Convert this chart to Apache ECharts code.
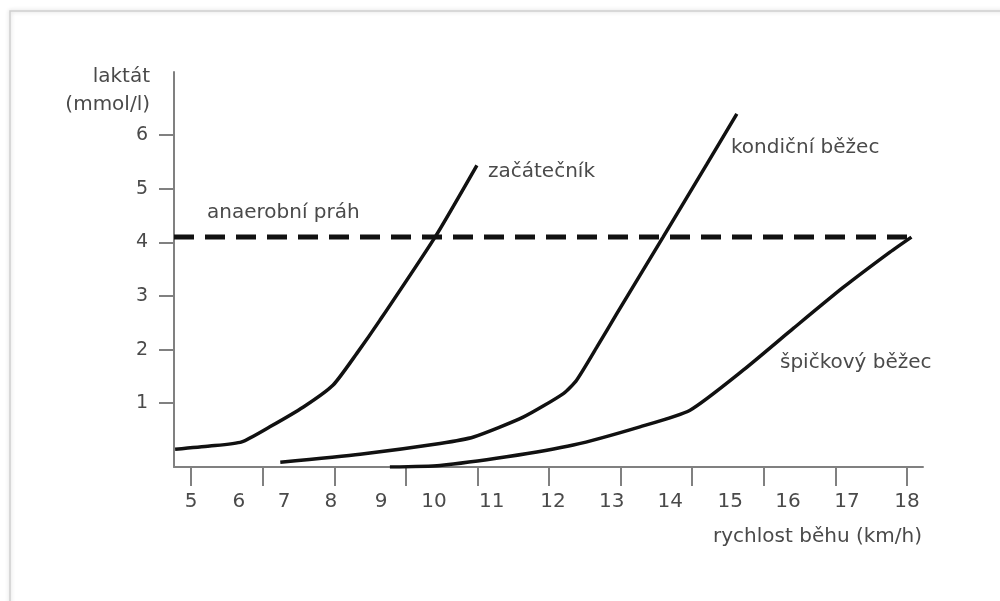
<!DOCTYPE html>
<html>
<head>
<meta charset="utf-8">
<script src="https://cdn.jsdelivr.net/npm/echarts@6/dist/echarts.min.js"></script>
<style>
  html, body { margin: 0; padding: 0; background: #fff; }
  #chart { width: 1000px; height: 601px; }
</style>
</head>
<body>
<div id="chart"></div>
<script>
// Tick labels
const speedLabels = ['5', '6', '7', '8', '9', '10', '11', '12', '13', '14', '15', '16', '17', '18'];
const lactateTicks = [1, 2, 3, 4, 5, 6];

// Lactate curves [speed km/h, lactate mmol/l]
const beginner = [
  [4.71, 0.14], [5.34, 0.20], [5.92, 0.28], [6.43, 0.56], [7.04, 0.93],
  [7.58, 1.34], [8.01, 1.93], [8.43, 2.55], [9.43, 4.10], [10.19, 5.44],
];
const fitRunner = [
  [6.62, -0.10], [8.07, 0.05], [9.52, 0.25], [10.13, 0.37], [11.03, 0.74],
  [11.76, 1.18], [12.00, 1.43], [12.37, 2.05], [12.73, 2.67], [13.57, 4.10],
  [14.36, 5.45], [14.91, 6.40],
];
const eliteRunner = [
  [8.61, -0.19], [9.52, -0.16], [10.73, 0.00], [11.94, 0.22], [13.15, 0.56],
  [14.06, 0.87], [15.03, 1.62], [15.94, 2.40], [16.84, 3.16], [17.69, 3.82],
  [18.08, 4.10],
];
const threshold = [[4.69, 4.1], [18.08, 4.1]];

// The printed labels sit a bit off the drawn tick marks, so place them separately
const labelAt = [5.00, 5.87, 6.69, 7.54, 8.45, 9.41, 10.46, 11.57, 12.64, 13.70, 14.79, 15.84, 16.91, 18.00];
const tickAt = [];
for (let k = 0; k <= 10; k++) tickAt.push(+(5 + k * 1.3).toFixed(2));

const FONT = 'DejaVu Sans';
const TEXT = '#4a4a4a';
const AXIS = '#808080';

const chart = echarts.init(document.getElementById('chart'), null, { renderer: 'canvas' });

const curve = (name, data) => ({
  name,
  type: 'line',
  data,
  showSymbol: false,
  smooth: 0.2,
  lineStyle: { color: '#111', width: 3.5 },
  silent: true,
  z: 3,
});

const label = (text, x, y, align) => ({
  type: 'text',
  x, y,
  style: {
    text,
    fill: TEXT,
    font: `20px "${FONT}"`,
    align: align || 'left',
    verticalAlign: 'middle',
  },
});

chart.setOption({
  animation: false,
  backgroundColor: '#fff',
  grid: { left: 174, right: 77, top: 72, bottom: 134 },
  xAxis: {
    type: 'value',
    min: 4.69,
    max: 18.29,
    axisLine: { onZero: false, lineStyle: { color: AXIS, width: 2 } },
    axisTick: { customValues: tickAt, length: 19, lineStyle: { color: AXIS, width: 2 } },
    axisLabel: {
      customValues: labelAt,
      formatter: (v) => {
        let best = 0;
        labelAt.forEach((p, i) => { if (Math.abs(p - v) < Math.abs(labelAt[best] - v)) best = i; });
        return speedLabels[best];
      },
      margin: 25,
      color: TEXT,
      fontFamily: FONT,
      fontSize: 20,
    },
    splitLine: { show: false },
  },
  yAxis: {
    type: 'value',
    min: -0.19,
    max: 7.18,
    axisLine: { show: true, onZero: false, lineStyle: { color: AXIS, width: 2 } },
    axisTick: { show: true, customValues: lactateTicks, length: 15, lineStyle: { color: AXIS, width: 2 } },
    axisLabel: {
      customValues: lactateTicks,
      margin: 26,
      color: TEXT,
      fontFamily: FONT,
      fontSize: 19,
    },
    splitLine: { show: false },
  },
  series: [
    {
      name: 'anaerobní práh',
      type: 'line',
      data: threshold,
      showSymbol: false,
      lineStyle: { color: '#111', width: 5, type: [20, 11], cap: 'butt' },
      silent: true,
      z: 2,
    },
    curve('začátečník', beginner),
    curve('kondiční běžec', fitRunner),
    curve('špičkový běžec', eliteRunner),
  ],
  graphic: [
    // page frame of the scanned figure
    {
      type: 'rect',
      shape: { x: 10, y: 11, width: 1200, height: 800 },
      style: { fill: 'none', stroke: '#cfcfcf', lineWidth: 1.5, shadowBlur: 4, shadowColor: 'rgba(0,0,0,0.2)' },
      z: -1,
    },
    label('laktát', 150, 77, 'right'),
    label('(mmol/l)', 150, 105, 'right'),
    label('rychlost běhu (km/h)', 922, 537, 'right'),
    label('anaerobní práh', 207, 213),
    label('začátečník', 488, 172),
    label('kondiční běžec', 731, 148),
    label('špičkový běžec', 780, 363),
  ],
});
</script>
</body>
</html>
